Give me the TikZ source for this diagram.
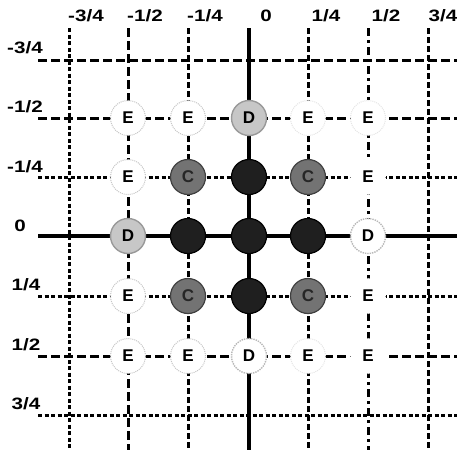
\documentclass[tikz,border=0pt]{standalone}
\usepackage{fontspec}
\setmainfont{Liberation Sans}
\newfontfamily\labfont[FakeStretch=1.25]{Liberation Sans}
\begin{document}
\begin{tikzpicture}[x=1pt,y=-1pt,
  lab/.style={font=\labfont\fontsize{16.5}{18}\selectfont\bfseries},
  gline/.style={line width=3pt},
  dotline/.style={gline,dash pattern=on 4pt off 2.5pt},
  longline/.style={gline,dash pattern=on 9pt off 4pt},
  midline/.style={gline,dash pattern=on 6pt off 3pt},
  axisline/.style={line width=4pt},
  nd/.style={circle,minimum size=35pt,inner sep=0pt,font=\fontsize{17}{18}\selectfont\bfseries},
  enode/.style={nd,fill=white,draw=gray!45,densely dotted,line width=1pt},
  dlight/.style={nd,fill=black!22,draw=black!40,line width=1.4pt},
  dwhite/.style={nd,fill=white,draw=gray!55,densely dotted,line width=1.4pt},
  cnode/.style={nd,fill=black!55,draw=black!75,line width=1.2pt,text=black!85},
  bnode/.style={nd,fill=black!88,draw=black,line width=1.2pt},
]
\useasboundingbox (0,0) rectangle (457,450);
% end coordinates of vertical lines
\foreach \n/\xx in {m3/69,m2/128,m1/188,z/249,p1/308,p2/368,p3/428}{
  \coordinate (vt\n) at (\xx,28);
  \coordinate (vb\n) at (\xx,450);
}
% end coordinates of horizontal lines
\foreach \n/\yy in {m3/60,m2/118,m1/177,z/236,p1/296,p2/356,p3/415}{
  \coordinate (hl\n) at (38,\yy);
  \coordinate (hr\n) at (457,\yy);
}
% grid lines
\draw[dotline]  (vtm3) -- (vbm3);
\draw[longline] (vtm2) -- (vbm2);
\draw[midline]  (vtm1) -- (vbm1);
\draw[midline]  (vtp1) -- (vbp1);
\draw[gline,dash pattern=on 8pt off 4pt on 3pt off 4pt] (vtp2) -- (vbp2);
\draw[midline]  (vtp3) -- (vbp3);
\draw[longline] (hlm3) -- (hrm3);
\draw[longline] (hlm2) -- (hrm2);
\draw[dotline]  (hlm1) -- (hrm1);
\draw[dotline]  (hlp1) -- (hrp1);
\draw[longline] (hlp2) -- (hrp2);
\draw[dotline]  (hlp3) -- (hrp3);
\draw[axisline] (vtz) -- (vbz);
\draw[axisline] (hlz) -- (hrz);
% top labels
\node[lab] (tm3) at (86,16) {-3/4};
\node[lab] (tm2) at (145,16) {-1/2};
\node[lab] (tm1) at (205,16) {-1/4};
\node[lab] (tz)  at (266,16) {0};
\node[lab] (tp1) at (326,16) {1/4};
\node[lab] (tp2) at (386,16) {1/2};
\node[lab] (tp3) at (443,16) {3/4};
% left labels
\node[lab] (lm3) at (25,48) {-3/4};
\node[lab] (lm2) at (25,107) {-1/2};
\node[lab] (lm1) at (25,167) {-1/4};
\node[lab] (lz)  at (20,226) {0};
\node[lab] (lp1) at (26,285) {1/4};
\node[lab] (lp2) at (26,345) {1/2};
\node[lab] (lp3) at (26,404) {3/4};
% row -1/2
\node[enode]  (n1) at (128,118) {E};
\node[enode]  (n2) at (188,118) {E};
\node[dlight] (n3) at (249,118) {D};
\node[enode,draw=gray!20]  (n4) at (308,118) {E};
\node[enode,draw=gray!20]  (n5) at (368,118) {E};
% row -1/4
\node[enode]  (n6) at (128,177) {E};
\node[cnode]  (n7) at (188,177) {C};
\node[bnode]  (n8) at (249,177) {};
\node[cnode]  (n9) at (308,177) {C};
\node[enode,draw=white]  (n10) at (368,177) {E};
% row 0
\node[dlight] (n11) at (128,236) {D};
\node[bnode]  (n12) at (188,236) {};
\node[bnode]  (n13) at (249,236) {};
\node[bnode]  (n14) at (308,236) {};
\node[dwhite] (n15) at (368,236) {D};
% row 1/4
\node[enode]  (n16) at (128,296) {E};
\node[cnode]  (n17) at (188,296) {C};
\node[bnode]  (n18) at (249,296) {};
\node[cnode]  (n19) at (308,296) {C};
\node[enode,draw=white]  (n20) at (368,296) {E};
% row 1/2
\node[enode]  (n21) at (128,356) {E};
\node[enode]  (n22) at (188,356) {E};
\node[dwhite] (n23) at (249,356) {D};
\node[enode,draw=gray!20]  (n24) at (308,356) {E};
\node[enode,draw=white]  (n25) at (368,356) {E};
\end{tikzpicture}
\end{document}
